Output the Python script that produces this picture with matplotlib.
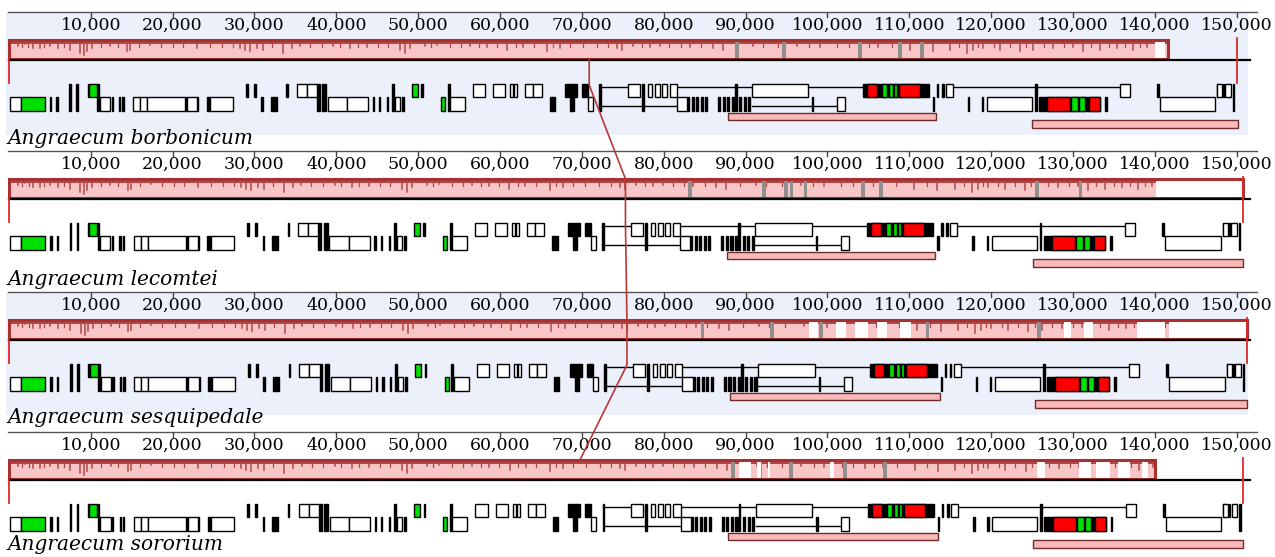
import matplotlib
matplotlib.use("Agg")
import matplotlib.pyplot as plt
from matplotlib.patches import Rectangle
from matplotlib.lines import Line2D

plt.rcParams['font.family'] = ['DejaVu Serif']

# genomes, lengths (bp) and where the LCB block ends
species = ["Angraecum borbonicum", "Angraecum lecomtei",
           "Angraecum sesquipedale", "Angraecum sororium"]
genome_len = [150030, 150730, 151260, 150830]
block_end = [141600, 150730, 151260, 140000]
cursor_bp = [70900, 75330, 75510, 69770]

# inverted repeat bars (IRb, IRa) per genome
ir_bars = [
    [(87860, 113260), (125000, 150150)],
    [(87730, 113140), (125110, 150730)],
    [(88100, 113750), (125350, 151260)],
    [(87860, 113500), (125110, 150830)],
]

# regions of the block with no similarity profile (white) or alignment gaps (grey)
white_gaps = [
    [(140000, 141300)],
    [(140200, 150730)],
    [(97700, 98900), (101000, 102300), (103400, 104900), (106000, 107300),
     (108900, 110200), (128900, 129800), (131300, 132500), (137800, 141300),
     (141700, 151260)],
    [(89200, 90700), (91400, 91900), (92700, 93000), (100300, 100800),
     (125600, 126600), (130700, 132200), (132800, 134500), (135500, 137000),
     (138400, 139200)],
]
grey_gaps = [
    [88700, 94450, 103730, 108620, 111310],
    [83000, 92000, 94700, 95400, 97100, 104100, 106300, 125350, 130700],
    [84500, 93000, 99000, 112000, 125600],
    [88200, 91600, 95300, 101900, 106800],
]

# similarity profile dips (bp, depth as fraction of block height)
dips = [
    (1120, .3), (1970, .2), (2950, .4), (3800, .4), (5030, .3), (6000, .4),
    (7470, .5), (8690, .7), (9180, .8), (9550, .6), (10160, .4), (12360, .3),
    (14430, .6), (14800, .5), (17240, .25), (22990, .4), (28240, .4),
    (28850, .5), (29460, .6), (30320, .4), (31050, .5), (33490, .7),
    (34590, .4), (35570, .3), (39600, .3), (41680, .4), (43750, .35),
    (47780, .5), (48390, .7), (49000, .4), (50840, .3), (52300, .25),
    (56330, .3), (58400, .35), (60860, .5), (62820, .35), (65750, .6),
    (67330, .4), (74300, .4), (74900, .5), (76240, .3), (78320, .35),
    (79545, .3), (83210, .35), (86020, .4), (87240, .5), (90910, .3),
    (96290, .3), (99100, .35), (104000, .4), (106200, .35), (110100, .5),
    (112900, .6), (114990, .5), (117080, .7), (117810, .5), (119030, .4),
    (121110, .5), (123550, .6), (125150, .5), (127600, .4), (130030, .35),
    (131250, .6), (133300, .5), (135370, .4), (137330, .5), (139040, .35),
]
# shallower ripples along the top of the profile
ripples = [
    1600, 2400, 4300, 6700, 11200, 13300, 15900, 18600, 20100, 21300, 24600,
    26100, 27400, 32100, 36800, 38200, 40400, 42600, 45100, 46300, 51600,
    53900, 55200, 57400, 59600, 61900, 64100, 66500, 68600, 70100, 71800,
    73200, 77300, 80700, 82100, 84600, 88900, 92100, 94000, 97800, 101200,
    102600, 105100, 107900, 111600, 116100, 118400, 120300, 122300, 124300,
    126400, 128900, 132200, 134400, 136300, 138200, 140100,
]

# gene features of the reference genome: (start, end, row)
genes_white = [
    (142, 1485, 'l'), (11136, 12357, 'l'), (15167, 16022, 'l'),
    (16022, 16877, 'l'), (16877, 21519, 'l'), (21764, 22985, 'l'),
    (24573, 27383, 'l'), (35201, 36423, 'u'), (36423, 37644, 'u'),
    (38988, 41309, 'l'), (41309, 43875, 'l'), (47173, 47784, 'l'),
    (53891, 55724, 'l'), (56701, 58167, 'u'), (59144, 60610, 'u'),
    (61221, 61588, 'u'), (61710, 62076, 'u'), (63053, 64030, 'u'),
    (64030, 65130, 'u'), (70749, 71360, 'l'), (75636, 77102, 'u'),
    (78079, 78568, 'u'), (78934, 79545, 'u'), (79789, 80400, 'u'),
    (80766, 81621, 'u'), (81621, 82843, 'l'), (90784, 97625, 'u'),
    (101168, 102145, 'l'), (114483, 115338, 'u'), (119492, 124989, 'l'),
    (135739, 136960, 'u'), (140625, 147344, 'l'), (147588, 148200, 'u'),
    (148600, 149300, 'u'),
]
genes_dark = [
    (5000, 5200, 'l'), (5800, 6000, 'l'), (7400, 7600, 't'), (8250, 8450, 't'),
    (9650, 9800, 'u'), (10800, 11000, 't'), (12550, 12700, 'l'),
    (13450, 13600, 'l'), (13850, 14050, 'l'), (21519, 21764, 'l'),
    (22985, 23150, 'l'), (24150, 24300, 'l'), (24330, 24573, 'l'),
    (29000, 29200, 'u'), (29950, 30150, 'u'), (30850, 31050, 'l'),
    (32025, 32758, 'l'), (33900, 34100, 'u'), (37644, 38000, 't'),
    (38300, 38800, 't'), (44450, 44600, 'l'), (45250, 45400, 'l'),
    (46200, 46350, 'l'), (46850, 47050, 't'), (48050, 48250, 'l'),
    (50400, 50600, 'u'), (53600, 53850, 't'), (66107, 66718, 'l'),
    (67939, 68550, 'u'), (68550, 69038, 't'), (69038, 69405, 'u'),
    (70016, 70749, 'u'), (72150, 72350, 't'), (77346, 77600, 't'),
    (82843, 83100, 'l'), (83400, 83650, 'l'), (83950, 84200, 'l'),
    (84500, 84750, 'l'), (85050, 85300, 'l'), (86630, 86880, 'l'),
    (87200, 87450, 'l'), (87750, 88000, 'l'), (88300, 88550, 'l'),
    (88707, 88900, 't'), (89250, 89500, 'l'), (89800, 90050, 'l'),
    (90350, 90600, 'l'), (98114, 98300, 'l'), (104344, 112406, 'u'),
    (112895, 113080, 'l'), (113384, 113550, 'u'), (114000, 114200, 'u'),
    (117171, 117350, 'l'), (118881, 119060, 'l'), (125356, 125550, 't'),
    (125845, 133296, 'l'), (133907, 134100, 'l'), (140259, 140450, 'u'),
    (147588, 147750, 'u'), (148300, 148450, 'u'), (149000, 149150, 'u'),
    (149543, 149700, 't'),
]
genes_red = [(104832, 106054, 'u'), (108742, 111307, 'u'),
             (126822, 129632, 'l'), (131952, 133296, 'l')]
genes_green = [(1485, 4417, 'l'), (9792, 10769, 'u'), (49250, 49983, 'u'),
               (52792, 53281, 'l'), (106665, 107276, 'u'), (107520, 108009, 'u'),
               (108131, 108498, 'u'), (129754, 130609, 'l'), (130731, 131464, 'l')]
# intron / trans-splicing links: (from, to, row)
gene_links = [(72215, 75636, 'u'), (81621, 104344, 'u'), (72400, 81621, 'l'),
              (90784, 101168, 'l'), (115338, 135739, 'u')]

# layout (pixels)
W, H = 1275, 557
panel_top = [12, 151, 292, 432]
panel_h = [140, 140, 140, 125]
label_y = [132, 134, 131, 118]
blue_bg = [True, False, True, False]
px_per_bp = 0.0081857
x0_px = 8.84
rows = {'u': (72, 85), 'l': (85, 99), 't': (72, 99)}
link_y = {'u': 75, 'l': 94}

BG = '#ebf0fa'
BLOCK_FILL = '#f8c6c6'
BLOCK_EDGE = '#a83030'
PROFILE = '#b04848'

fig = plt.figure(figsize=(W / 100, H / 100), dpi=100)
axes = []
for i in range(4):
    top, h = panel_top[i], panel_h[i]
    ax = fig.add_axes([0, 1 - (top + h) / H, 1, h / H])
    ax.set_xlim(-x0_px / px_per_bp, (W - x0_px) / px_per_bp)
    ax.set_ylim(h, 0)
    ax.axis('off')
    axes.append(ax)
    stretch = genome_len[i] / genome_len[0]
    bp1 = 1 / px_per_bp  # one pixel in bp

    if blue_bg[i]:
        ax.add_patch(Rectangle((-3 * bp1, 0), 1242 * bp1, 123,
                               fc=BG, ec='none', zorder=0))

    # coordinate ruler
    ax.plot([-bp1, 152500], [0, 0], color='#555555', lw=1, clip_on=False)
    for t in range(10000, 160000, 10000):
        ax.plot([t, t], [0, 5], color='#444444', lw=1)
        ax.text(t, 13.5, f"{t:,}", ha='center', va='center', fontsize=12.5)

    # LCB block with similarity profile
    ax.add_patch(Rectangle((0, 28), block_end[i], 19, fc=BLOCK_FILL, ec='none', zorder=2))
    ax.add_patch(Rectangle((0, 28), block_end[i], 3.5, fc=PROFILE, ec='none', zorder=3))
    for pos in ripples:
        p = pos * stretch
        if p < block_end[i]:
            ax.plot([p, p], [28, 35], color=PROFILE, lw=0.9, zorder=3)
    for pos, depth in dips:
        p = pos * stretch
        if p < block_end[i]:
            ax.plot([p, p], [28, 28 + 19 * depth], color=PROFILE, lw=1.1, zorder=3)
    for g in grey_gaps[i]:
        ax.add_patch(Rectangle((g, 28), 450, 19, fc='#8f8f8f', ec='none', zorder=4))
    for a, b in white_gaps[i]:
        ax.add_patch(Rectangle((a, 28), b - a, 19, fc='white', ec='none', zorder=4))
    ax.add_patch(Rectangle((0, 28), block_end[i], 19, fc='none', ec=BLOCK_EDGE,
                           lw=2.2, zorder=5))
    ax.plot([0, 1250 * bp1 - x0_px * bp1], [48, 48], color='black', lw=1.6, zorder=5)

    # genome start / end markers
    ax.plot([0, 0], [48, 71], color='#e02828', lw=1.3, zorder=6)
    ax.plot([genome_len[i]] * 2, [26, 71], color='#e02828', lw=1.3, zorder=6)

    # gene annotations
    for feats, fc in ((genes_dark, 'black'), (genes_white, 'white'),
                      (genes_red, '#ff0000'), (genes_green, '#00e000')):
        for s, e, r in feats:
            y0, y1 = rows[r]
            ax.add_patch(Rectangle((s * stretch, y0), (e - s) * stretch, y1 - y0,
                                   fc=fc, ec='black', lw=1.0, zorder=7))
    for s, e, r in gene_links:
        ax.plot([s * stretch, e * stretch], [link_y[r]] * 2, color='black',
                lw=1.0, zorder=6)

    # inverted repeats
    for (a, b), (y0, y1) in zip(ir_bars[i], [(101, 108), (108, 116)]):
        ax.add_patch(Rectangle((a, y0), b - a, y1 - y0, fc='#f9b9b9',
                               ec='#6e2c2c', lw=1.0, zorder=6))

    ax.text(-x0_px * bp1 + 8 * bp1, label_y[i], species[i], fontsize=14.5,
            style='italic', va='baseline', ha='left', zorder=8)

# cursor line linking homologous positions across the genomes
fig_inv = fig.transFigure.inverted()
pts = []
for i, ax in enumerate(axes):
    if i > 0:
        pts.append(ax.transData.transform((cursor_bp[i], 28)))
    if i < 3:
        pts.append(ax.transData.transform((cursor_bp[i], 48)))
        pts.append(ax.transData.transform((cursor_bp[i], 73)))
pts = [fig_inv.transform(p) for p in pts]
fig.add_artist(Line2D([p[0] for p in pts], [p[1] for p in pts],
                      color='#b83838', lw=1.2, zorder=10))

fig.savefig("out.png", dpi=100)
